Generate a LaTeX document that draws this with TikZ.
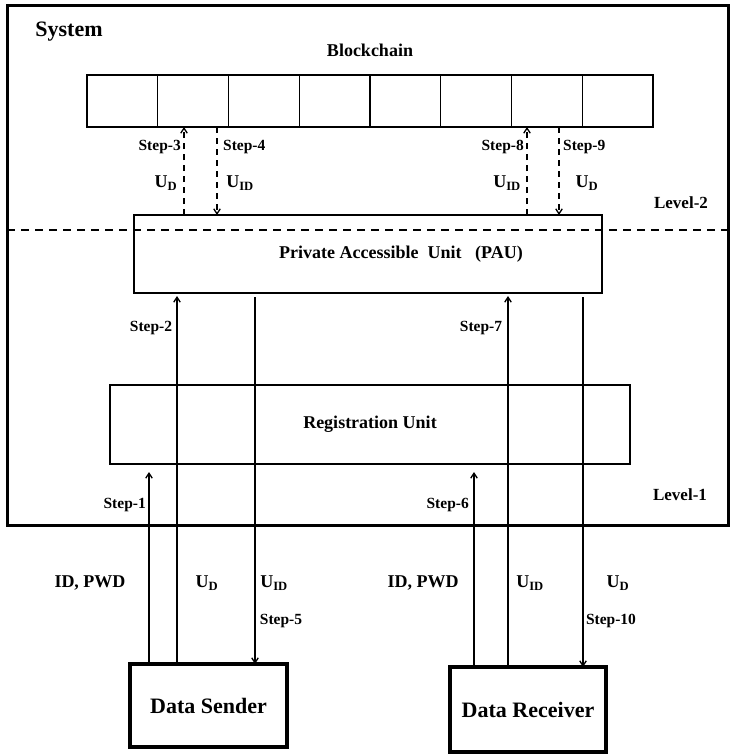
\documentclass[tikz,border=0pt]{standalone}
\usepackage{fontspec}
\setmainfont{Liberation Serif}
\usetikzlibrary{arrows.meta}
\tikzset{
  x=1pt,y=-1pt,
  lbl/.style={font=\fontsize{15.5}{17}\selectfont\bfseries, inner sep=0pt},
  ulbl/.style={font=\fontsize{18}{20}\selectfont\bfseries, inner sep=0pt},
  cell/.style={draw, line width=1.3pt, minimum width=70.75pt, minimum height=52pt, inner sep=0pt, outer sep=0pt},
  unit/.style={draw, line width=1.3pt, inner sep=0pt, outer sep=0pt, font=\fontsize{18}{20}\selectfont\bfseries},
  actor/.style={draw, line width=3.2pt, inner sep=0pt, outer sep=0pt, font=\fontsize{22}{24}\selectfont\bfseries},
  flow/.style={line width=1.3pt, -{Straight Barb[length=5pt,width=6.5pt,line width=1.3pt]}},
  dflow/.style={line width=1.3pt, dash pattern=on 6pt off 5pt, -{Straight Barb[length=5pt,width=6.5pt,line width=1.3pt]}},
}
\begin{document}
\begin{tikzpicture}
\useasboundingbox (0,0) rectangle (734,755);
% outer system box
\node[draw, line width=3pt, minimum width=721pt, minimum height=520pt, inner sep=0pt] (sys) at (367.5,265) {};
\node[font=\fontsize{22}{24}\selectfont\bfseries, inner sep=0pt] (systxt) at (69,32) {System};
\node[font=\fontsize{18}{20}\selectfont\bfseries, inner sep=0pt] (bctxt) at (370,50) {Blockchain};
% blockchain cells
\foreach \i in {1,...,8} {
  \node[cell] (b\i) at ({87+70.75*(\i-0.5)},101) {};
}
% units
\node[unit, minimum width=468pt, minimum height=78pt] (pau) at (368,254) {};
\node[inner sep=0pt, font=\fontsize{18}{20}\selectfont\bfseries] (pautxt) at (401,254) {Private Accessible\ \ Unit\ \ \ (PAU)};
\node[unit, minimum width=520pt, minimum height=79pt] (reg) at (370,424.5) {Registration Unit};
\node[actor, minimum width=157pt, minimum height=83pt] (snd) at (208.5,705.5) {Data Sender};
\node[actor, minimum width=156pt, minimum height=85pt] (rcv) at (528,709.5) {Data Receiver};
% level separator
\coordinate (dl) at (7,230);
\coordinate (dr) at (728,230);
\draw[line width=2pt, dash pattern=on 8pt off 6pt] (dl) -- (dr);
% x positions of connectors
\coordinate (x3) at (184,0);
\coordinate (x4) at (217,0);
\coordinate (x8) at (527,0);
\coordinate (x9) at (559,0);
\coordinate (x1) at (149,0);
\coordinate (x2) at (177,0);
\coordinate (x5) at (255,0);
\coordinate (x6) at (474,0);
\coordinate (x7) at (508,0);
\coordinate (x10) at (583,0);
% dashed arrows between PAU and blockchain
\draw[dflow] (x3 |- pau.north) -- (x3 |- b2.south);
\draw[dflow] (x4 |- b2.south) -- (x4 |- pau.north);
\draw[dflow] (x8 |- pau.north) -- (x8 |- b7.south);
\draw[dflow] (x9 |- b7.south) -- (x9 |- pau.north);
% sender flows
\draw[flow, shorten >=8pt] (x1 |- snd.north) -- (x1 |- reg.south);
\draw[flow, shorten >=3pt] (x2 |- snd.north) -- (x2 |- pau.south);
\draw[flow, shorten <=4pt] (x5 |- pau.south) -- (x5 |- snd.north);
% receiver flows
\draw[flow, shorten >=8pt] (x6 |- rcv.north) -- (x6 |- reg.south);
\draw[flow, shorten >=3pt] (x7 |- rcv.north) -- (x7 |- pau.south);
\draw[flow, shorten <=4pt] (x10 |- pau.south) -- (x10 |- rcv.north);
% labels upper
\node[lbl, anchor=east] (s3) at (181,147) {Step-3};
\node[lbl, anchor=west] (s4) at (223,147) {Step-4};
\node[ulbl] (u3) at (166,183) {U\textsubscript{D}};
\node[ulbl] (u4) at (240,183) {U\textsubscript{ID}};
\node[lbl, anchor=east] (s8) at (524,147) {Step-8};
\node[lbl, anchor=west] (s9) at (563,147) {Step-9};
\node[ulbl] (u8) at (507,183) {U\textsubscript{ID}};
\node[ulbl] (u9) at (587,183) {U\textsubscript{D}};
\node[lbl, font=\fontsize{17}{19}\selectfont\bfseries] (lv2) at (681,203) {Level-2};
\node[lbl, font=\fontsize{17}{19}\selectfont\bfseries] (lv1) at (680,495) {Level-1};
\node[lbl] (s2) at (151,328) {Step-2};
\node[lbl] (s7) at (481,328) {Step-7};
\node[lbl, anchor=east] (s1) at (146,505) {Step-1};
\node[lbl, anchor=east] (s6) at (469,505) {Step-6};
% labels lower
\node[ulbl] (idp1) at (90,583) {ID, PWD};
\node[ulbl] (ud1) at (207,583) {U\textsubscript{D}};
\node[ulbl] (uid1) at (274,583) {U\textsubscript{ID}};
\node[lbl] (s5) at (281,621) {Step-5};
\node[ulbl] (idp2) at (423,583) {ID, PWD};
\node[ulbl] (uid2) at (530,583) {U\textsubscript{ID}};
\node[ulbl] (ud2) at (618,583) {U\textsubscript{D}};
\node[lbl] (s10) at (611,621) {Step-10};
\end{tikzpicture}
\end{document}
